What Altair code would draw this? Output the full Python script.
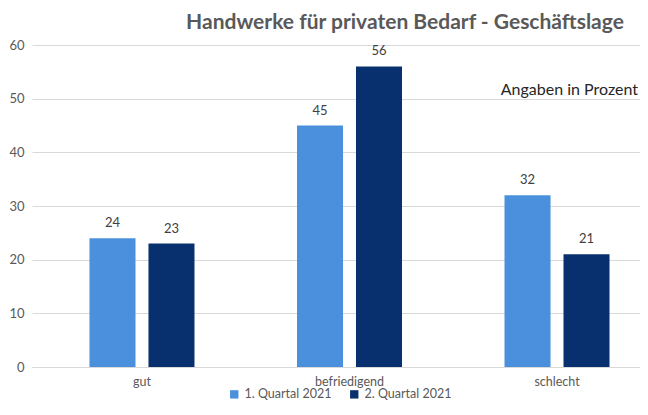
import altair as alt
import pandas as pd

categories = ["gut", "befriedigend", "schlecht"]
series = ["1. Quartal 2021", "2. Quartal 2021"]
q1_values = [24, 45, 32]
q2_values = [23, 56, 21]
colors = ["#4A90DC", "#08306E"]

rows = []
for c, a, b in zip(categories, q1_values, q2_values):
    rows.append({"Kategorie": c, "Serie": series[0], "Wert": a})
    rows.append({"Kategorie": c, "Serie": series[1], "Wert": b})
df = pd.DataFrame(rows)

FONT = "Lato"
W, H = 608, 322

xenc = alt.X("Kategorie:N", sort=categories, title=None,
             scale=alt.Scale(range=[0, 635], paddingInner=0.494, paddingOuter=0.277),
             axis=alt.Axis(labelAngle=0, ticks=False, domain=True, domainColor="#d9d9d9",
                           labelPadding=8, labelFontSize=12.5, labelColor="#595959", labelFont=FONT))
xoff = alt.XOffset("Serie:N", sort=series, scale=alt.Scale(paddingInner=0.22, paddingOuter=0))
yenc = alt.Y("Wert:Q", title=None,
             scale=alt.Scale(domain=[0, 60], nice=False),
             axis=alt.Axis(values=[0, 10, 20, 30, 40, 50, 60], ticks=False, domain=False,
                           gridColor="#d9d9d9", labelPadding=8, labelFontSize=13,
                           labelColor="#595959", labelFont=FONT))

base = alt.Chart(df)

bars = base.mark_bar().encode(
    x=xenc, xOffset=xoff, y=yenc,
    color=alt.Color("Serie:N", sort=series, scale=alt.Scale(domain=series, range=colors),
                    legend=alt.Legend(title=None, orient="none", legendX=196, legendY=343,
                                      direction="horizontal",
                                      symbolType="square", symbolSize=70, labelFontSize=12.5,
                                      labelColor="#595959", labelFont=FONT,
                                      columnPadding=16, symbolStrokeWidth=0)),
)

labels = base.mark_text(baseline="bottom", dy=-8, fontSize=13, color="#404040", font=FONT).encode(
    x=xenc, xOffset=xoff, y=alt.Y("Wert:Q"), text=alt.Text("Wert:Q"),
)

note_df = pd.DataFrame({"txt": ["Angaben in Prozent"], "y": [51.6]})
note = alt.Chart(note_df).mark_text(align="right", baseline="middle", fontSize=16,
                                    color="#262626", font=FONT).encode(
    x=alt.value(606), y=alt.Y("y:Q"), text="txt:N"
)

chart = alt.layer(bars, labels, note).properties(
    width=W, height=H,
    autosize=alt.AutoSizeParams(type="none"),
    title=alt.TitleParams("Handwerke für privaten Bedarf - Geschäftslage", fontSize=21,
                          fontWeight="bold", color="#595959", font=FONT, anchor="middle",
                          dx=69, offset=6),
    padding={"left": 24, "top": 37, "right": 0, "bottom": 34},
).configure_view(stroke=None)

chart.save("out.html", embed_options={"renderer": "svg", "actions": False})
